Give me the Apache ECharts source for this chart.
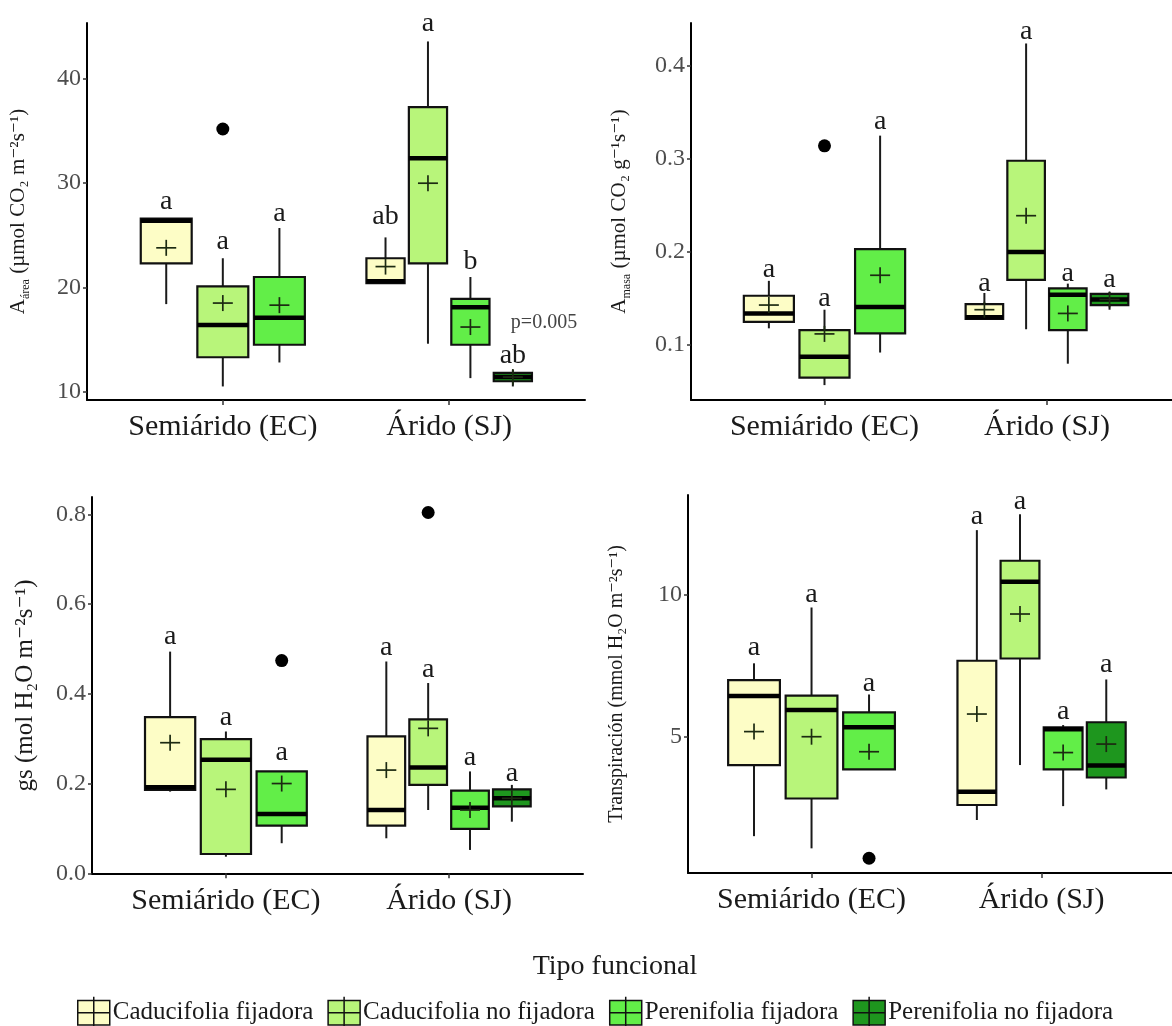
<!DOCTYPE html>
<html>
<head>
<meta charset="utf-8">
<script src="https://cdn.jsdelivr.net/npm/echarts@6/dist/echarts.min.js"></script>
<style>
  html, body { margin: 0; padding: 0; background: #fff; }
  #chart { width: 1172px; height: 1026px; }
</style>
</head>
<body>
<div id="chart"></div>
<script>
var regions = ['Semiárido (EC)', 'Árido (SJ)'];
var tipos = ['Caducifolia fijadora', 'Caducifolia no fijadora', 'Perenifolia fijadora', 'Perenifolia no fijadora'];
var tipoColors = ['#FDFDC6', '#B8F57A', '#62EE48', '#1E961E'];

// [region, tipo, min, q1, median, q3, max, mean]
var areaStats = [
  [0, 0, 18.4, 22.3, 26.4, 26.6, 26.6, 23.8],
  [0, 1, 10.5, 13.3, 16.4, 20.1, 22.8, 18.5],
  [0, 2, 12.8, 14.5, 17.1, 21.0, 25.7, 18.3],
  [1, 0, 20.4, 20.4, 20.6, 22.8, 24.8, 22.0],
  [1, 1, 14.6, 22.3, 32.4, 37.3, 43.6, 30.0],
  [1, 2, 11.3, 14.5, 18.1, 18.9, 21.0, 16.2],
  [1, 3, 10.5, 11.0, 11.4, 11.8, 12.1, 11.4]
];
var areaOutliers = [[0, 1, 35.2]];
var areaLetters = [[0, 0, 28.2, 'a'], [0, 1, 24.4, 'a'], [0, 2, 27.1, 'a'],
  [1, 0, 26.8, 'ab'], [1, 1, 45.3, 'a'], [1, 2, 22.5, 'b'], [1, 3, 13.5, 'ab']];
var areaNote = [1, 3, 16.6, 'p=0.005'];

var masaStats = [
  [0, 0, 0.118, 0.125, 0.134, 0.153, 0.169, 0.143],
  [0, 1, 0.057, 0.065, 0.0875, 0.116, 0.138, 0.112],
  [0, 2, 0.092, 0.1125, 0.141, 0.203, 0.325, 0.175],
  [1, 0, 0.128, 0.128, 0.130, 0.144, 0.156, 0.138],
  [1, 1, 0.117, 0.170, 0.200, 0.298, 0.424, 0.239],
  [1, 2, 0.080, 0.116, 0.154, 0.161, 0.166, 0.134],
  [1, 3, 0.138, 0.143, 0.149, 0.155, 0.157, 0.149]
];
var masaOutliers = [[0, 1, 0.314]];
var masaLetters = [[0, 0, 0.181, 'a'], [0, 1, 0.150, 'a'], [0, 2, 0.340, 'a'],
  [1, 0, 0.166, 'a'], [1, 1, 0.437, 'a'], [1, 2, 0.177, 'a'], [1, 3, 0.170, 'a']];

var gsStats = [
  [0, 0, 0.182, 0.186, 0.192, 0.348, 0.494, 0.291],
  [0, 1, 0.037, 0.043, 0.253, 0.299, 0.316, 0.187],
  [0, 2, 0.067, 0.106, 0.132, 0.227, 0.227, 0.200],
  [1, 0, 0.078, 0.106, 0.141, 0.305, 0.472, 0.230],
  [1, 1, 0.141, 0.197, 0.236, 0.343, 0.424, 0.323],
  [1, 2, 0.052, 0.099, 0.146, 0.184, 0.227, 0.141],
  [1, 3, 0.115, 0.149, 0.167, 0.187, 0.197, 0.167]
];
var gsOutliers = [[0, 2, 0.474], [1, 1, 0.804]];
var gsLetters = [[0, 0, 0.528, 'a'], [0, 1, 0.346, 'a'], [0, 2, 0.268, 'a'],
  [1, 0, 0.502, 'a'], [1, 1, 0.454, 'a'], [1, 2, 0.257, 'a'], [1, 3, 0.223, 'a']];

var transStats = [
  [0, 0, 1.49, 4.00, 6.44, 7.00, 7.59, 5.18],
  [0, 1, 1.06, 2.82, 5.94, 6.45, 9.56, 5.00],
  [0, 2, 3.85, 3.85, 5.33, 5.86, 6.49, 4.47],
  [1, 0, 2.06, 2.59, 3.06, 7.68, 12.29, 5.80],
  [1, 1, 4.00, 7.76, 10.47, 11.21, 12.85, 9.33],
  [1, 2, 2.55, 3.85, 5.26, 5.33, 5.41, 4.44],
  [1, 3, 3.14, 3.56, 3.98, 5.51, 7.02, 4.74]
];
var transOutliers = [[0, 2, 0.71]];
var transLetters = [[0, 0, 8.15, 'a'], [0, 1, 10.0, 'a'], [0, 2, 6.88, 'a'],
  [1, 0, 12.76, 'a'], [1, 1, 13.29, 'a'], [1, 2, 5.88, 'a'], [1, 3, 7.53, 'a']];

var areaTicks = [10, 20, 30, 40];
var masaTicks = [0.1, 0.2, 0.3, 0.4];
var gsTicks = [0.0, 0.2, 0.4, 0.6, 0.8];
var transTicks = [5, 10];

var serif = '"Liberation Serif", "DejaVu Serif", serif';
var chart = echarts.init(document.getElementById('chart'));

// dodge: boxes side by side inside each region
function dodge(stats, region, tipo) {
  var present = [];
  stats.forEach(function (s) { if (s[0] === region) present.push(s[1]); });
  var n = present.length, k = present.indexOf(tipo);
  var slot = 0.75 / n;
  return { x: region + 1 + (k - (n - 1) / 2) * slot, hw: slot * 0.9 / 2 };
}

function renderBox(params, api) {
  var x = api.value(0), hw = api.value(7);
  var lo = api.coord([x, api.value(1)]);
  var q1 = api.coord([x, api.value(2)]);
  var md = api.coord([x, api.value(3)]);
  var q3 = api.coord([x, api.value(4)]);
  var hi = api.coord([x, api.value(5)]);
  var mn = api.coord([x, api.value(6)]);
  var l = api.coord([x - hw, api.value(3)])[0];
  var r = api.coord([x + hw, api.value(3)])[0];
  var cx = lo[0];
  var wStyle = { stroke: '#1a1a1a', lineWidth: 2 };
  var mStyle = { stroke: '#1c2a12', lineWidth: 1.7 };
  return {
    type: 'group',
    children: [
      { type: 'line', shape: { x1: cx, y1: q3[1], x2: cx, y2: hi[1] }, style: wStyle },
      { type: 'line', shape: { x1: cx, y1: q1[1], x2: cx, y2: lo[1] }, style: wStyle },
      { type: 'rect', shape: { x: l, y: q3[1], width: r - l, height: q1[1] - q3[1] },
        style: { fill: api.visual('color'), stroke: '#111', lineWidth: 2.2 } },
      { type: 'line', shape: { x1: l, y1: md[1], x2: r, y2: md[1] }, style: { stroke: '#000', lineWidth: 4.5 } },
      { type: 'line', shape: { x1: cx - 10, y1: mn[1], x2: cx + 10, y2: mn[1] }, style: mStyle },
      { type: 'line', shape: { x1: cx, y1: mn[1] - 8, x2: cx, y2: mn[1] + 8 }, style: mStyle }
    ]
  };
}

var panels = [
  { stats: areaStats, outliers: areaOutliers, letters: areaLetters, ticks: areaTicks, digits: 0,
    grid: { left: 87, top: 23, width: 498, height: 377 }, xMin: 0.4, xMax: 2.6, yMin: 9.2, yMax: 45.37,
    name: '{t|A}{s|área}{t| (µmol CO₂ m⁻²s⁻¹)}', nameSize: 21, nameGap: 52 },
  { stats: masaStats, outliers: masaOutliers, letters: masaLetters, ticks: masaTicks, digits: 1,
    grid: { left: 691, top: 23, width: 481, height: 377 }, xMin: 0.4, xMax: 2.562, yMin: 0.041, yMax: 0.446,
    name: '{t|A}{s|masa}{t| (µmol CO₂ g⁻¹s⁻¹)}', nameSize: 21, nameGap: 55 },
  { stats: gsStats, outliers: gsOutliers, letters: gsLetters, ticks: gsTicks, digits: 1,
    grid: { left: 92, top: 497, width: 491, height: 377 }, xMin: 0.4, xMax: 2.6, yMin: -0.0016, yMax: 0.8386,
    name: '{t|gs (mol H₂O m⁻²s⁻¹)}', nameSize: 25, nameGap: 48 },
  { stats: transStats, outliers: transOutliers, letters: transLetters, ticks: transTicks, digits: 0,
    grid: { left: 688, top: 495, width: 484, height: 378 }, xMin: 0.463, xMax: 2.567, yMin: 0.19, yMax: 13.53,
    name: '{t|Transpiración (mmol H₂O m⁻²s⁻¹)}', nameSize: 20, nameGap: 55 }
];

var grids = [], xAxes = [], yAxes = [], series = [];

panels.forEach(function (p, i) {
  grids.push(Object.assign({ outerBoundsMode: 'none' }, p.grid));
  xAxes.push({
    type: 'value', gridIndex: i, min: p.xMin, max: p.xMax,
    axisLine: { lineStyle: { color: '#000', width: 2 } },
    axisTick: { customValues: [1, 2], length: 5, lineStyle: { color: '#333', width: 1.5 } },
    axisLabel: { customValues: [1, 2], margin: 12, fontFamily: serif, fontSize: 30, color: '#1a1a1a',
      formatter: function (v) { return regions[Math.round(v) - 1]; } },
    splitLine: { show: false }
  });
  yAxes.push({
    type: 'value', gridIndex: i, min: p.yMin, max: p.yMax,
    name: p.name, nameLocation: 'middle', nameGap: p.nameGap,
    nameTextStyle: { fontFamily: serif, color: '#1a1a1a',
      rich: { t: { fontFamily: serif, fontSize: p.nameSize, color: '#1a1a1a', verticalAlign: 'top', lineHeight: p.nameSize + 6 },
              s: { fontFamily: serif, fontSize: Math.round(p.nameSize * 0.55), color: '#1a1a1a', verticalAlign: 'top',
                   padding: [Math.round(p.nameSize * 0.55), 0, 0, 0], lineHeight: p.nameSize + 6 } } },
    axisLine: { lineStyle: { color: '#000', width: 2 } },
    axisTick: { customValues: p.ticks, length: 4, lineStyle: { color: '#333', width: 1.5 } },
    axisLabel: { customValues: p.ticks, margin: 6, fontFamily: serif, fontSize: 24, color: '#4d4d4d',
      formatter: function (v) { return v.toFixed(p.digits); } },
    splitLine: { show: false }
  });

  tipos.forEach(function (tipo, t) {
    var data = [];
    p.stats.forEach(function (s) {
      if (s[1] !== t) return;
      var d = dodge(p.stats, s[0], s[1]);
      data.push([d.x, s[2], s[3], s[4], s[5], s[6], s[7], d.hw]);
    });
    series.push({
      type: 'custom', name: tipo, xAxisIndex: i, yAxisIndex: i,
      itemStyle: { color: tipoColors[t] },
      renderItem: renderBox, encode: { x: 0, y: [1, 2, 3, 4, 5] },
      data: data, z: 2
    });
  });

  series.push({
    type: 'scatter', xAxisIndex: i, yAxisIndex: i, symbolSize: 13,
    itemStyle: { color: '#000', opacity: 1 }, silent: true, z: 3,
    data: p.outliers.map(function (o) { return [dodge(p.stats, o[0], o[1]).x, o[2]]; })
  });

  var letterTexts = p.letters.map(function (l) { return l[3]; });
  series.push({
    type: 'custom', xAxisIndex: i, yAxisIndex: i, silent: true, z: 4,
    data: p.letters.map(function (l) { return [dodge(p.stats, l[0], l[1]).x, l[2]]; }),
    renderItem: function (params, api) {
      var pt = api.coord([api.value(0), api.value(1)]);
      return { type: 'text', x: pt[0], y: pt[1],
        style: { text: letterTexts[params.dataIndex], fontFamily: serif, fontSize: 28, fill: '#1a1a1a',
          align: 'center', verticalAlign: 'middle' } };
    }
  });
});

// p-value note in the first panel
series.push({
  type: 'custom', xAxisIndex: 0, yAxisIndex: 0, silent: true, z: 4,
  data: [[dodge(areaStats, areaNote[0], areaNote[1]).x, areaNote[2]]],
  renderItem: function (params, api) {
    var pt = api.coord([api.value(0), api.value(1)]);
    return { type: 'text', x: pt[0] - 2, y: pt[1],
      style: { text: areaNote[3], fontFamily: serif, fontSize: 20, fill: '#444', align: 'left', verticalAlign: 'middle' } };
  }
});

var option = {
  animation: false,
  backgroundColor: '#fff',
  textStyle: { fontFamily: serif },
  title: {
    text: 'Tipo funcional', left: 610, top: 948, textAlign: 'center',
    textStyle: { fontFamily: serif, fontSize: 28, fontWeight: 'normal', color: '#1a1a1a' }
  },
  legend: {
    data: tipos, left: 72, top: 991, itemWidth: 34, itemHeight: 32, itemGap: 14,
    icon: 'path://M0,0H34V26H0Z M17,-4V30 M0,13H34',
    itemStyle: { borderColor: '#111', borderWidth: 1.5 },
    textStyle: { fontFamily: serif, fontSize: 25, color: '#1a1a1a', padding: [0, 0, 0, -3] }
  },
  grid: grids,
  xAxis: xAxes,
  yAxis: yAxes,
  series: series
};
chart.setOption(option);
</script>
</body>
</html>
